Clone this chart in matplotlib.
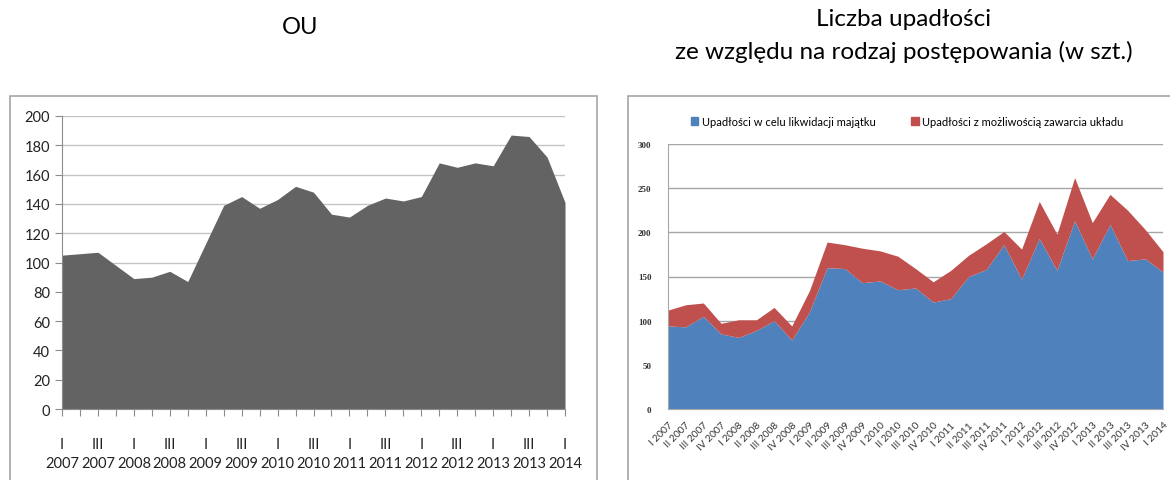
import matplotlib
matplotlib.use("Agg")
import matplotlib.pyplot as plt
from matplotlib.patches import Patch, Rectangle

# left chart: OU, quarterly I 2007 .. I 2014
ou_values = [105, 106, 107, 98, 89, 90, 94, 87, 113, 139, 145, 137, 143, 152, 148,
             133, 131, 139, 144, 142, 145, 168, 165, 168, 166, 187, 186, 172, 141]
ou_labels = ['I\n2007', 'III\n2007', 'I\n2008', 'III\n2008', 'I\n2009', 'III\n2009',
             'I\n2010', 'III\n2010', 'I\n2011', 'III\n2011', 'I\n2012', 'III\n2012',
             'I\n2013', 'III\n2013', 'I\n2014']

# right chart: bankruptcies by type of proceedings
quarters = ['I 2007', 'II 2007', 'III 2007', 'IV 2007', 'I 2008', 'II 2008', 'III 2008', 'IV 2008',
            'I 2009', 'II 2009', 'III 2009', 'IV 2009', 'I 2010', 'II 2010', 'III 2010', 'IV 2010',
            'I 2011', 'II 2011', 'III 2011', 'IV 2011', 'I 2012', 'II 2012', 'III 2012', 'IV 2012',
            'I 2013', 'II 2013', 'III 2013', 'IV 2013', 'I 2014']
liquidation = [94, 93, 105, 85, 81, 89, 100, 78, 110, 160, 159, 143, 145, 135, 137, 121,
               125, 150, 158, 186, 147, 193, 157, 213, 170, 209, 168, 170, 155]
arrangement = [18, 25, 15, 12, 20, 12, 15, 16, 24, 29, 27, 39, 34, 38, 22, 23,
               32, 24, 29, 15, 34, 42, 41, 49, 41, 34, 57, 33, 23]
legend_labels = ['Upadłości w celu likwidacji majątku', 'Upadłości z możliwością zawarcia układu']

W, H = 1170, 481
sans = ['Lato', 'DejaVu Sans']

fig = plt.figure(figsize=(W / 100, H / 100), dpi=100)

def box(x0, y0, x1, y1):
    return [x0 / W, 1 - y1 / H, (x1 - x0) / W, (y1 - y0) / H]

# frames around each chart
fig.patches.append(Rectangle((10 / W, -0.02), 587 / W, 1 - 97 / H + 0.02, transform=fig.transFigure,
                             fill=False, edgecolor='#a6a6a6', linewidth=1.2))
fig.patches.append(Rectangle((628 / W, -0.02), 560 / W, 1 - 97 / H + 0.02, transform=fig.transFigure,
                             fill=False, edgecolor='#a6a6a6', linewidth=1.2))

fig.text(300 / W, 1 - 27 / H, 'OU', ha='center', va='center', fontsize=17, family=sans)
fig.text(904 / W, 1 - 36 / H, 'Liczba upadłości\nze względu na rodzaj postępowania (w szt.)',
         ha='center', va='center', fontsize=17.5, family=sans, linespacing=1.65)

# ---- left chart
ax1 = fig.add_axes(box(62, 117, 565, 410))
x = list(range(len(ou_values)))
ax1.fill_between(x, 0, ou_values, color='#636363', linewidth=0, zorder=2)
ax1.set_xlim(0, 28)
ax1.set_ylim(0, 200)
ax1.set_yticks(range(0, 201, 20))
ax1.grid(axis='y', color='#c4c4c4', linewidth=1, zorder=0)
for s in ['top', 'right']:
    ax1.spines[s].set_visible(False)
for s in ['left', 'bottom']:
    ax1.spines[s].set_color('#8c8c8c')
ax1.set_xticks(x)
ax1.set_xticklabels([ou_labels[i // 2] if i % 2 == 0 else '' for i in x], linespacing=1.5)
ax1.tick_params(axis='x', length=5, color='#8c8c8c', pad=15, labelsize=10.5)
ax1.tick_params(axis='y', length=5, color='#8c8c8c', labelsize=10.5)
for t in ax1.get_xticklabels() + ax1.get_yticklabels():
    t.set_family(sans)
    t.set_color('#222222')

# ---- right chart
ax2 = fig.add_axes(box(668, 145, 1163, 410))
x2 = list(range(len(quarters)))
total = [a + b for a, b in zip(liquidation, arrangement)]
ax2.fill_between(x2, 0, liquidation, color='#4f81bd', linewidth=0, zorder=2)
ax2.fill_between(x2, liquidation, total, color='#c0504d', linewidth=0, zorder=2)
ax2.set_xlim(0, 28)
ax2.set_ylim(0, 300)
ax2.set_yticks(range(0, 301, 50))
ax2.grid(axis='y', color='#a6a6a6', linewidth=1, zorder=0)
for s in ['top', 'right']:
    ax2.spines[s].set_visible(False)
for s in ['left', 'bottom']:
    ax2.spines[s].set_color('#a6a6a6')
ax2.set_xticks(x2)
ax2.set_xticklabels(quarters, rotation=45, ha='right', rotation_mode='anchor')
ax2.tick_params(axis='x', length=0, pad=8, labelsize=7.3)
ax2.tick_params(axis='y', length=0, pad=12, labelsize=6.5)
for t in ax2.get_xticklabels():
    t.set_family(sans)
    t.set_color('#333333')
for t in ax2.get_yticklabels():
    t.set_family(['Liberation Serif', 'DejaVu Serif'])
    t.set_weight('bold')
    t.set_color('#333333')

handles = [Patch(color='#4f81bd'), Patch(color='#c0504d')]
fig.legend(handles, legend_labels, loc='center', bbox_to_anchor=(907 / W, 1 - 122 / H), ncol=2,
           frameon=False, prop={'family': sans, 'size': 8}, handlelength=0.7, handleheight=0.7,
           handletextpad=0.3, columnspacing=3.2)

fig.savefig('out.png', dpi=100)
